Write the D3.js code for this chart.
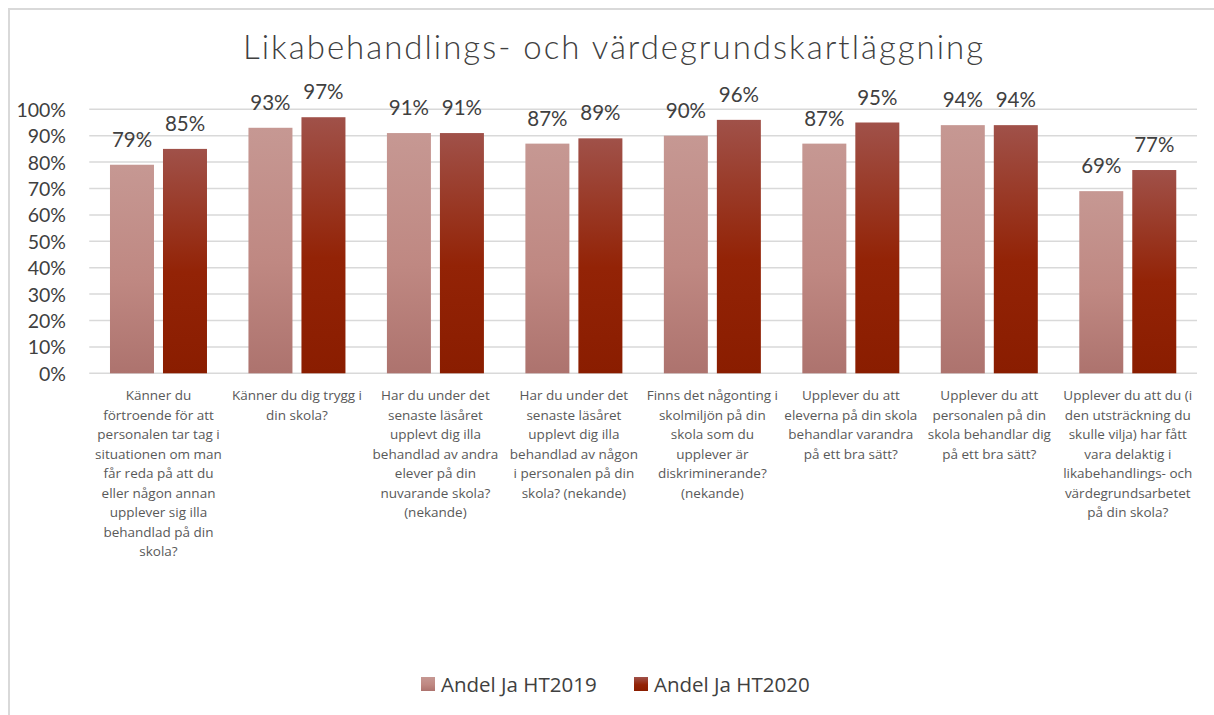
<!DOCTYPE html>
<html><head><meta charset="utf-8">
<script src="https://cdn.jsdelivr.net/npm/d3@7"></script>
<style>body{margin:0;background:#fff;} svg{display:block;}</style>
</head><body>
<svg id="chart" width="1214" height="715"></svg>
<script>
const title = "Likabehandlings- och värdegrundskartläggning";
const categories = [
  ["Känner du","förtroende för att","personalen tar tag i","situationen om man","får reda på att du","eller någon annan","upplever sig illa","behandlad på din","skola?"],
  ["Känner du dig trygg i","din skola?"],
  ["Har du under det","senaste läsåret","upplevt dig illa","behandlad av andra","elever på din","nuvarande skola?","(nekande)"],
  ["Har du under det","senaste läsåret","upplevt dig illa","behandlad av någon","i personalen på din","skola? (nekande)"],
  ["Finns det någonting i","skolmiljön på din","skola som du","upplever är","diskriminerande?","(nekande)"],
  ["Upplever du att","eleverna på din skola","behandlar varandra","på ett bra sätt?"],
  ["Upplever du att","personalen på din","skola behandlar dig","på ett bra sätt?"],
  ["Upplever du att du (i","den utsträckning du","skulle vilja) har fått","vara delaktig i","likabehandlings- och","värdegrundsarbetet","på din skola?"]
];
const seriesNames = ["Andel Ja HT2019", "Andel Ja HT2020"];
const ht2019 = [0.79, 0.93, 0.91, 0.87, 0.90, 0.87, 0.94, 0.69];
const ht2020 = [0.85, 0.97, 0.91, 0.89, 0.96, 0.95, 0.94, 0.77];
const yTicks = [0,0.1,0.2,0.3,0.4,0.5,0.6,0.7,0.8,0.9,1.0];

(function(){
const svg = d3.select("#chart");
const defs = svg.append("defs");
const g1 = defs.append("linearGradient").attr("id","grad0").attr("x1",0).attr("y1",0).attr("x2",0).attr("y2",1);
g1.append("stop").attr("offset","0%").attr("stop-color","#c69893");
g1.append("stop").attr("offset","55%").attr("stop-color","#bf8882");
g1.append("stop").attr("offset","100%").attr("stop-color","#ad736e");
const g2 = defs.append("linearGradient").attr("id","grad1").attr("x1",0).attr("y1",0).attr("x2",0).attr("y2",1);
g2.append("stop").attr("offset","0%").attr("stop-color","#a05149");
g2.append("stop").attr("offset","55%").attr("stop-color","#932306");
g2.append("stop").attr("offset","100%").attr("stop-color","#8a1d00");

// border
svg.append("path").attr("d","M9,715 V9 H1214").attr("fill","none").attr("stroke","#d9d9d9").attr("stroke-width",2);

const pLeft = 89.25, pRight = 1197, pTop = 109.3, pBottom = 373.3;
const x = d3.scaleBand().domain(d3.range(categories.length)).range([pLeft,pRight]).paddingInner(0).paddingOuter(0);
const y = d3.scaleLinear().domain([0,1]).range([pBottom, pTop]);
const barW = 44, gap = 9;

svg.append("text").attr("x",613).attr("y",59).attr("text-anchor","middle")
  .attr("font-family","Lato").attr("font-weight",300).attr("font-size",33)
  .attr("textLength",740).attr("lengthAdjust","spacing").attr("fill","#404040").text(title);

// gridlines
svg.append("g").selectAll("line").data(yTicks).join("line")
  .attr("x1",pLeft).attr("x2",pRight).attr("y1",d=>y(d)).attr("y2",d=>y(d))
  .attr("stroke","#d9d9d9").attr("stroke-width",1.5);

// y axis labels
const yAxis = d3.axisLeft(y).tickValues(yTicks).tickFormat(d3.format(".0%")).tickSize(0).tickPadding(0);
const ya = svg.append("g").attr("transform","translate(66,0)").call(yAxis);
ya.select(".domain").remove();
ya.selectAll("text").attr("font-family","Lato").attr("font-size",19.5).attr("fill","#404040").attr("dy","0.36em");

const series = [ht2019, ht2020];
series.forEach((vals, si) => {
  const off = si === 0 ? -(gap/2 + barW) : gap/2;
  svg.append("g").selectAll("rect").data(vals).join("rect")
    .attr("x",(d,i)=>x(i)+x.bandwidth()/2+off).attr("width",barW)
    .attr("y",d=>y(d)).attr("height",d=>y(0)-y(d)).attr("fill",`url(#grad${si})`);
  svg.append("g").selectAll("text").data(vals).join("text")
    .attr("x",(d,i)=>x(i)+x.bandwidth()/2+off+barW/2).attr("y",d=>y(d)-18)
    .attr("text-anchor","middle").attr("font-family","Lato").attr("font-size",20.5).attr("fill","#404040")
    .text(d=>d3.format(".0%")(d));
});

// category labels
const cl = svg.append("g");
categories.forEach((lines,i)=>{
  const t = cl.append("text").attr("text-anchor","middle").attr("font-family","Open Sans").attr("font-size",13.5).attr("fill","#595959");
  lines.forEach((ln,j)=>{
    t.append("tspan").attr("x",x(i)+x.bandwidth()/2).attr("y",400+j*19.5).text(ln);
  });
});

// legend
const legX = [421, 634];
seriesNames.forEach((n,i)=>{
  svg.append("rect").attr("x",legX[i]).attr("y",677).attr("width",14).attr("height",14).attr("fill",`url(#grad${i})`);
  svg.append("text").attr("x",legX[i]+20).attr("y",692).attr("font-family","Open Sans").attr("font-size",20.5).attr("fill","#404040").text(n);
});
})();
</script>
</body></html>
